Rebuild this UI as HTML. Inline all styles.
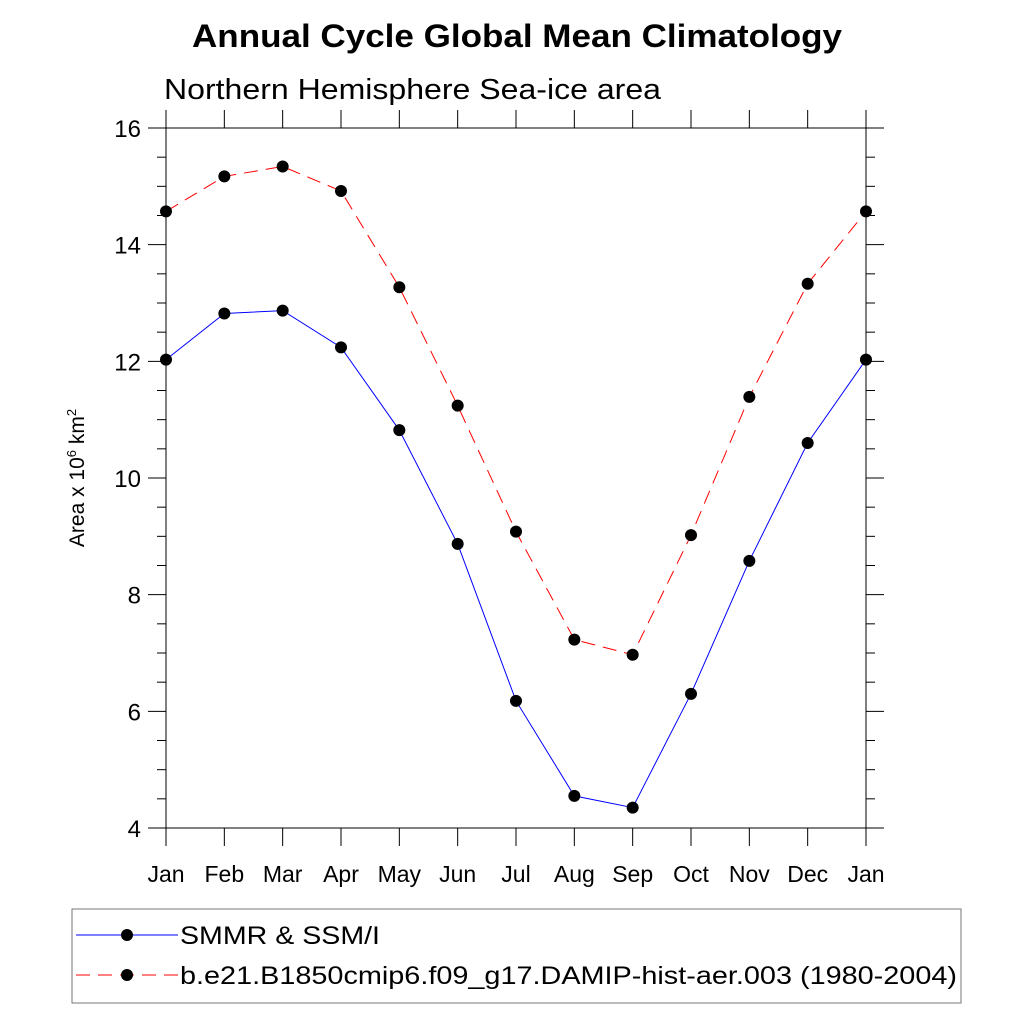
<!DOCTYPE html>
<html><head><meta charset="utf-8"><style>
html,body{margin:0;padding:0;background:#fff}
svg{display:block;font-family:"Liberation Sans",sans-serif}
</style></head><body>
<svg id="c" width="1024" height="1024" xmlns="http://www.w3.org/2000/svg">
<text x="192" y="47" font-size="32" font-weight="bold" textLength="650" lengthAdjust="spacingAndGlyphs">Annual Cycle Global Mean Climatology</text>
<text x="164" y="99" font-size="29" textLength="497" lengthAdjust="spacingAndGlyphs">Northern Hemisphere Sea-ice area</text>
<text transform="translate(84,478) rotate(-90)" text-anchor="middle" font-size="21">Area x 10<tspan font-size="13" dy="-8">6</tspan><tspan dy="8"> km</tspan><tspan font-size="13" dy="-8">2</tspan></text>
<g id="axes"></g>
<g id="series"></g>
<rect x="72" y="909" width="889" height="94" fill="none" stroke="#777" stroke-width="1"/>
<g>
<line x1="76" y1="935" x2="178" y2="935" stroke="#00f" stroke-width="1"/>
<circle cx="127" cy="935" r="6" fill="#000"/>
<text x="180" y="944" font-size="25" textLength="200" lengthAdjust="spacingAndGlyphs">SMMR &amp; SSM/I</text></g>
<g>
<line x1="76" y1="975" x2="178" y2="975" stroke="#f00" stroke-width="1" stroke-dasharray="14,8"/>
<circle cx="127" cy="975" r="6" fill="#000"/>
<text x="180" y="984" font-size="25" textLength="777" lengthAdjust="spacingAndGlyphs">b.e21.B1850cmip6.f09_g17.DAMIP-hist-aer.003 (1980-2004)</text></g>
</svg>
<script>
const months=["Jan","Feb","Mar","Apr","May","Jun","Jul","Aug","Sep","Oct","Nov","Dec","Jan"];
const obsValues=[12.03,12.82,12.87,12.24,10.82,8.87,6.18,4.55,4.35,6.30,8.58,10.60,12.03];
const modelValues=[14.57,15.17,15.34,14.92,13.27,11.24,9.08,7.23,6.97,9.02,11.39,13.33,14.57];
const yTicks=[4,6,8,10,12,14,16];
const L=166,R=866,T=128,B=828,yMin=4,yMax=16;
const NS="http://www.w3.org/2000/svg";
const xs=i=>L+(R-L)*i/(months.length-1);
const ys=v=>B-(B-T)*(v-yMin)/(yMax-yMin);
function mk(p,tag,a){const e=document.createElementNS(NS,tag);for(const k in a)e.setAttribute(k,a[k]);p.appendChild(e);return e;}
const ax=document.getElementById('axes');
const fr=mk(ax,'rect',{x:L,y:T,width:R-L,height:B-T,fill:'none',stroke:'#000','stroke-width':1});


for(let v=yMin;v<=yMax+1e-9;v+=0.5){const maj=Math.abs(v-Math.round(v/2)*2)<1e-9;const len=maj?18:9;const y=ys(v);
mk(ax,'line',{x1:L-len,y1:y,x2:L,y2:y,stroke:'#000'});mk(ax,'line',{x1:R,y1:y,x2:R+len,y2:y,stroke:'#000'});}
yTicks.forEach(v=>{const t=mk(ax,'text',{x:141,y:ys(v)+9,'text-anchor':'end','font-size':24});t.textContent=v;

});
months.forEach((m,i)=>{const x=xs(i);mk(ax,'line',{x1:x,y1:B,x2:x,y2:B+18,stroke:'#000'});mk(ax,'line',{x1:x,y1:T-18,x2:x,y2:T,stroke:'#000'});
const t=mk(ax,'text',{x:x,y:882,'text-anchor':'middle','font-size':23});t.textContent=m;

});
const sg=document.getElementById('series');
function series(vals,color,dash,name){const g=mk(sg,'g',{});


const a={points:vals.map((v,i)=>xs(i)+','+ys(v)).join(' '),fill:'none',stroke:color,'stroke-width':1};if(dash)a['stroke-dasharray']=dash;mk(g,'polyline',a);
vals.forEach((v,i)=>{const c=mk(g,'circle',{cx:xs(i),cy:ys(v),r:6,fill:'#000'});

});}
series(obsValues,'#00f',null,'series-smmr');
series(modelValues,'#f00','14,8','series-model');
</script>
</body></html>
